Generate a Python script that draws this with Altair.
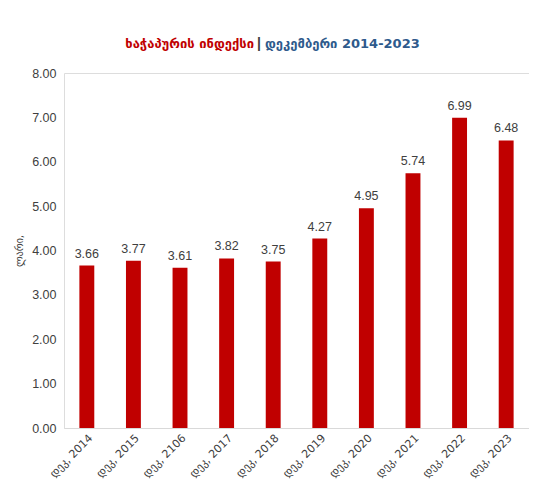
import altair as alt
import pandas as pd

categories = ["დეკ, 2014", "დეკ, 2015", "დეკ, 2106", "დეკ, 2017", "დეკ, 2018",
              "დეკ, 2019", "დეკ, 2020", "დეკ, 2021", "დეკ, 2022", "დეკ, 2023"]
values = [3.66, 3.77, 3.61, 3.82, 3.75, 4.27, 4.95, 5.74, 6.99, 6.48]

title_red = "ხაჭაპურის ინდექსი"
title_sep = "|"
title_blue = "დეკემბერი 2014-2023"
y_title = "ლარი,"

df = pd.DataFrame({"cat": categories, "val": values})

x = alt.X("cat:N", sort=categories, title=None,
          scale=alt.Scale(paddingInner=0.68, paddingOuter=0.33),
          axis=alt.Axis(labelAngle=315, labelFontSize=11, labelColor="#404040",
                        labelFont="DejaVu Sans", ticks=False, domainColor="#d9d9d9",
                        labelPadding=4, labelAlign="right", labelBaseline="top"))
y = alt.Y("val:Q", title=y_title,
          scale=alt.Scale(domain=[0, 8], nice=False),
          axis=alt.Axis(format=".2f", values=[0, 1, 2, 3, 4, 5, 6, 7, 8], grid=False,
                        domain=False, ticks=False, labelFontSize=12.5, labelColor="#404040",
                        labelFont="Liberation Sans", labelPadding=8,
                        titleFontSize=10, titleFont="DejaVu Sans", titleColor="#404040",
                        titleFontWeight="normal", titlePadding=7))

bars = alt.Chart(df).mark_bar(color="#C00000").encode(x=x, y=y)
labels = alt.Chart(df).mark_text(dy=-12, fontSize=12.5, color="#404040",
                                 font="Liberation Sans").encode(
    x=alt.X("cat:N", sort=categories), y="val:Q", text=alt.Text("val:Q", format=".2f"))

tdf = pd.DataFrame({"t": [0]})
t1 = alt.Chart(tdf).mark_text(align="right", baseline="middle", fontSize=13,
                              fontWeight="bold", color="#C00000", font="DejaVu Sans").encode(
    x=alt.value(190), y=alt.value(-29), text=alt.value(title_red))
t2 = alt.Chart(tdf).mark_text(align="center", baseline="middle", fontSize=14,
                              fontWeight="bold", color="#404040", font="Liberation Sans").encode(
    x=alt.value(195), y=alt.value(-29), text=alt.value(title_sep))
t3 = alt.Chart(tdf).mark_text(align="left", baseline="middle", fontSize=13,
                              fontWeight="bold", color="#2E5A8C", font="DejaVu Sans").encode(
    x=alt.value(201), y=alt.value(-29), text=alt.value(title_blue))

chart = alt.layer(bars, labels, t1, t2, t3).properties(
    width=465, height=355,
    autosize=alt.AutoSizeParams(type="none"),
    padding={"left": 56, "top": 65, "right": 0, "bottom": 52},
).configure_view(stroke=None).configure(background="white")

chart.save("out.html", embed_options={"renderer": "svg", "actions": False})
